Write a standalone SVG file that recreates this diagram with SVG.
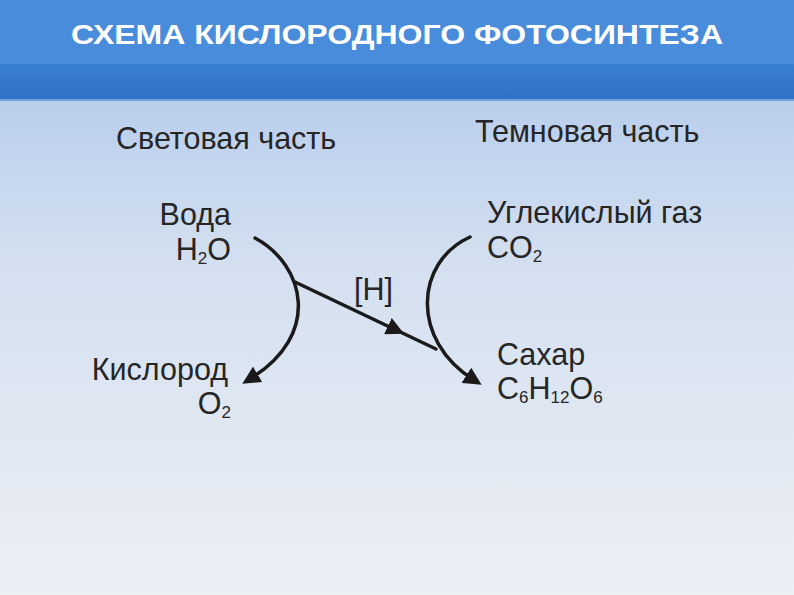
<svg xmlns="http://www.w3.org/2000/svg" width="794" height="595" viewBox="0 0 794 595">
<defs>
<linearGradient id="bg" x1="0" y1="0" x2="0" y2="1">
<stop offset="0" stop-color="#aac4ea"/>
<stop offset="0.45" stop-color="#d4e0f0"/>
<stop offset="1" stop-color="#eceff4"/>
</linearGradient>
<linearGradient id="band" x1="0" y1="0" x2="0" y2="1">
<stop offset="0" stop-color="#3a80d4"/>
<stop offset="1" stop-color="#2e70c4"/>
</linearGradient>
<marker id="arr" viewBox="0 0 10 10" refX="5" refY="5" markerWidth="18" markerHeight="18" markerUnits="userSpaceOnUse" orient="auto">
<path d="M0,0 L10,5 L0,10 Z" fill="#1a1a1a"/>
</marker>
</defs>
<style>
.t{font-family:"Liberation Sans",Arial,sans-serif;fill:#262626;font-size:30.5px}
.s{font-size:17px}
.ttl{font-family:"Liberation Sans",Arial,sans-serif;font-weight:bold;fill:#ffffff;font-size:28px}
.c{fill:none;stroke:#1a1a1a;stroke-width:3.5;stroke-linecap:round}
</style>
<rect x="0" y="0" width="794" height="595" fill="url(#bg)"/>
<rect x="0" y="0" width="794" height="64" fill="#4a8cdc"/>
<rect x="0" y="64" width="794" height="36" fill="url(#band)"/>
<rect x="0" y="99" width="794" height="2" fill="#6fa0dc"/>
<text class="ttl" x="397" y="44" text-anchor="middle" textLength="652" lengthAdjust="spacingAndGlyphs">СХЕМА КИСЛОРОДНОГО ФОТОСИНТЕЗА</text>

<g id="light-title"><text class="t" x="116" y="149">Световая часть</text></g>
<g id="dark-title"><text class="t" x="475" y="142">Темновая часть</text></g>
<g id="water"><text class="t" x="231" y="225" text-anchor="end">Вода</text>
<text class="t" x="231" y="260" text-anchor="end">H<tspan class="s" dy="4">2</tspan><tspan dy="-4">O</tspan></text></g>
<g id="oxygen"><text class="t" x="228" y="380" text-anchor="end">Кислород</text>
<text class="t" x="231" y="414" text-anchor="end">O<tspan class="s" dy="4">2</tspan></text></g>
<g id="co2"><text class="t" x="487" y="223">Углекислый газ</text>
<text class="t" x="487" y="258">CO<tspan class="s" dy="4">2</tspan></text></g>
<g id="sugar"><text class="t" x="497" y="365">Сахар</text>
<text class="t" x="497" y="399">C<tspan class="s" dy="4">6</tspan><tspan dy="-4">H</tspan><tspan class="s" dy="4">12</tspan><tspan dy="-4">O</tspan><tspan class="s" dy="4">6</tspan></text></g>
<g id="h-label"><text class="t" x="354" y="300">[H]</text></g>

<g id="connectors">
<path class="c" d="M255,238 C305,265 322,335 250,379" marker-end="url(#arr)"/>
<path class="c" d="M295,282 L396,330" marker-end="url(#arr)"/>
<path class="c" d="M394,329 L436,349"/>
<path class="c" d="M470,237 C415,262 410,340 474,380" marker-end="url(#arr)"/>
</g>
</svg>
